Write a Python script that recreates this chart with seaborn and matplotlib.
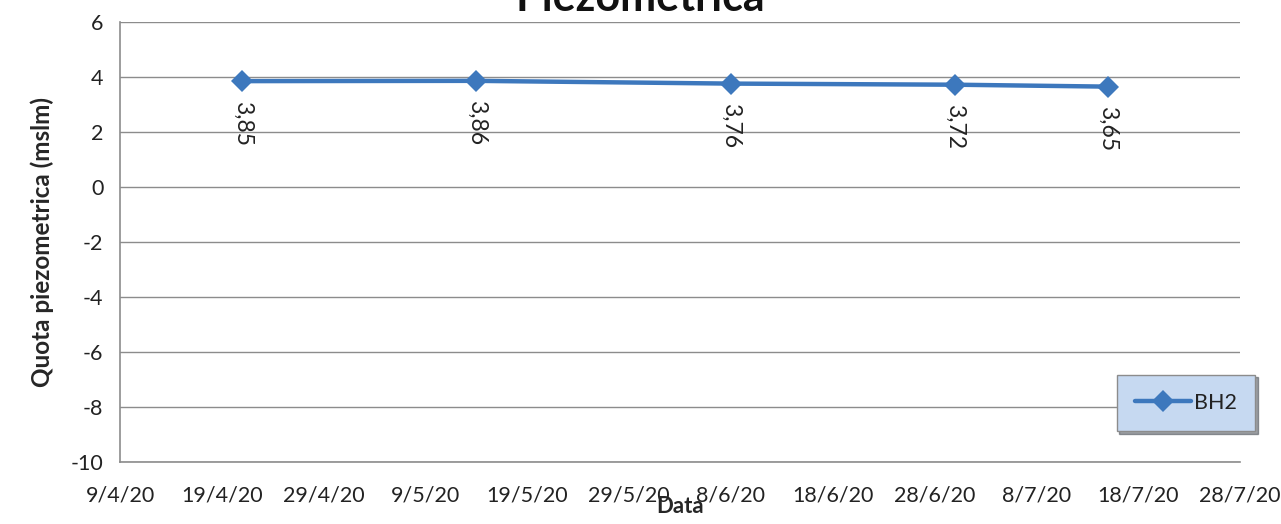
import datetime as dt
import pandas as pd
import seaborn as sns
import matplotlib.pyplot as plt
import matplotlib.dates as mdates
from matplotlib.ticker import FuncFormatter

# data
dates = ["2020-04-21", "2020-05-14", "2020-06-08", "2020-06-30", "2020-07-15"]
quota = [3.85, 3.86, 3.76, 3.72, 3.65]
series_name = "BH2"

df = pd.DataFrame({"Data": pd.to_datetime(dates), "Quota": quota, "Serie": series_name})

sns.set_style("white")
plt.rcParams['font.family'] = ['Lato', 'DejaVu Sans']
plt.rcParams['axes.unicode_minus'] = False

blue = "#3d78bd"
grey = "#8c8c8c"

fig = plt.figure(figsize=(12.81, 5.24), dpi=100)
ax = fig.add_axes([120 / 1281, 62 / 524, 1120 / 1281, 440 / 524])

sns.lineplot(data=df, x="Data", y="Quota", hue="Serie", palette=[blue], ax=ax,
             marker="D", markersize=11, linewidth=3.2, markeredgewidth=0)

# value labels, rotated, under each point
for d, v in zip(df["Data"], df["Quota"]):
    ax.annotate(f"{v:.2f}".replace(".", ","), (d, v), xytext=(0, -14),
                textcoords="offset points", rotation=-90, ha="center", va="top",
                fontsize=16.5, color="#222222")

start = dt.datetime(2020, 4, 9)
ax.set_xlim(start, dt.datetime(2020, 7, 28))
ax.set_ylim(-10, 6)
ax.set_yticks(range(-10, 7, 2))
ax.set_xticks([start + dt.timedelta(days=10 * i) for i in range(12)])
ax.xaxis.set_major_formatter(FuncFormatter(
    lambda x, pos: (lambda d: f"{d.day}/{d.month}/{d.strftime('%y')}")(mdates.num2date(x))))

ax.grid(axis="y", color=grey, linewidth=1)
ax.set_axisbelow(True)
for s in ["top", "right"]:
    ax.spines[s].set_visible(False)
for s in ["left", "bottom"]:
    ax.spines[s].set_color(grey)
    ax.spines[s].set_linewidth(1.2)
ax.tick_params(axis="both", direction="out", length=5, color=grey, width=1.2,
               labelsize=15.5, labelcolor="#222222", pad=7)
ax.tick_params(axis="x", pad=12)

ax.set_xlabel("Data", fontsize=16, fontweight="bold", labelpad=-7)
ax.set_ylabel("Quota piezometrica (mslm)", fontsize=17.5, fontweight="bold", labelpad=12)

fig.text(0.5, 1 - 11 / 524, "Piezometrica", ha="center", va="baseline",
         fontsize=31, fontweight="bold", color="#111111")

leg = ax.legend(loc="center", bbox_to_anchor=(1186 / 1281, 1 - 403 / 524),
                bbox_transform=fig.transFigure, fontsize=15.5, frameon=True,
                fancybox=False, shadow=True, handlelength=2.6, handletextpad=0.15,
                borderpad=0.85, borderaxespad=0, labelcolor="#222222")
leg.get_frame().set_facecolor("#c6d9f1")
leg.get_frame().set_edgecolor("#8c8c8c")
leg.get_frame().set_alpha(1)

fig.savefig("out.png", dpi=100)
